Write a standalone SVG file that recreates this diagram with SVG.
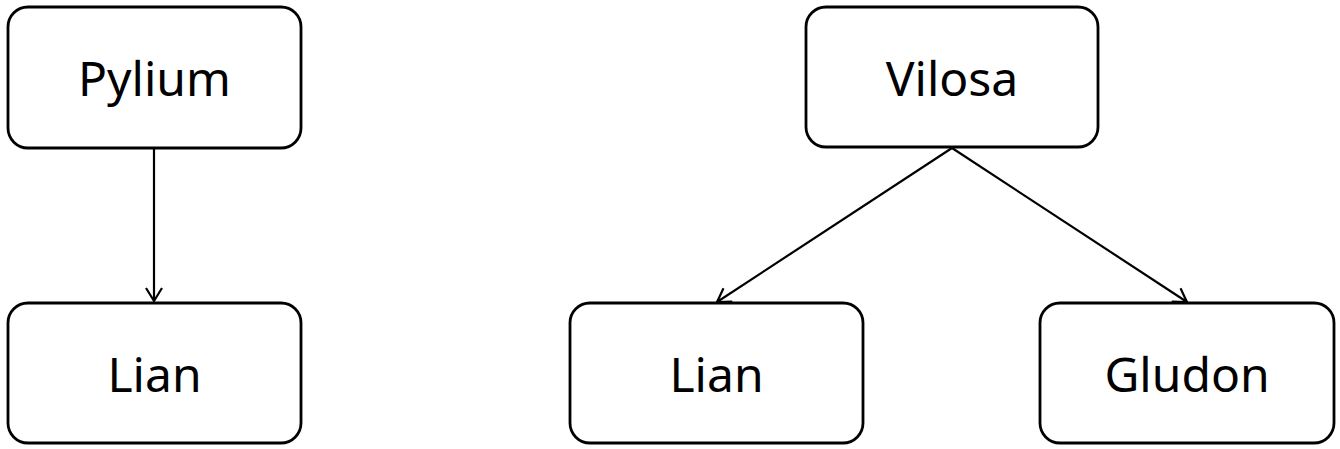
<svg xmlns="http://www.w3.org/2000/svg" width="1340" height="449" viewBox="0 0 1340 449">
<style>
.box{fill:#fff;stroke:#000;stroke-width:2.8}
.lbl{font-family:"Noto Sans","Open Sans",sans-serif;font-size:48px;fill:#000;text-anchor:middle}
.edge{stroke:#000;stroke-width:2.2;fill:none}
</style>
<defs>
<marker id="arr" markerUnits="userSpaceOnUse" markerWidth="20" markerHeight="22" viewBox="0 0 20 22" refX="15" refY="11" orient="auto">
<path d="M2,3 L15,11 L2,19" fill="none" stroke="#000" stroke-width="2.2"/>
</marker>
</defs>
<rect width="1340" height="449" fill="#fff"/>
<g id="connectors">
<line class="edge" x1="154" y1="148" x2="154" y2="301" marker-end="url(#arr)"/>
<line class="edge" x1="952" y1="148" x2="717" y2="302" marker-end="url(#arr)"/>
<line class="edge" x1="952" y1="148" x2="1187" y2="302" marker-end="url(#arr)"/>
</g>
<g id="pylium"><rect class="box" x="8" y="7" width="293" height="141" rx="20"/><text class="lbl" x="154.5" y="96">Pylium</text></g>
<g id="lian1"><rect class="box" x="8" y="303" width="293" height="140" rx="20"/><text class="lbl" x="154.5" y="392">Lian</text></g>
<g id="vilosa"><rect class="box" x="806" y="7" width="292" height="140" rx="20"/><text class="lbl" x="952" y="96">Vilosa</text></g>
<g id="lian2"><rect class="box" x="570" y="303" width="293" height="140" rx="20"/><text class="lbl" x="716.5" y="392">Lian</text></g>
<g id="gludon"><rect class="box" x="1040" y="303" width="294" height="140" rx="20"/><text class="lbl" x="1187" y="392">Gludon</text></g>
</svg>
